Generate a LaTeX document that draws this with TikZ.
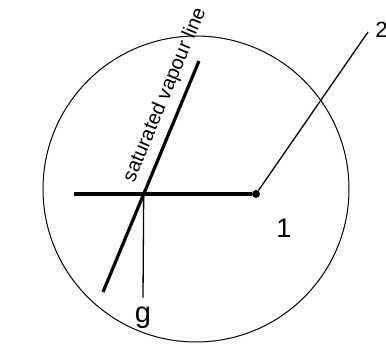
\documentclass[tikz,border=0pt]{standalone}
\usepackage{fontspec}
\setmainfont{Liberation Sans}
\usetikzlibrary{positioning}

\begin{document}
\begin{tikzpicture}[
    x=1pt, y=-1pt,
    thinline/.style={line width=1.3pt},
    boldline/.style={line width=3.2pt},
    dot/.style={circle, fill, inner sep=0pt, minimum size=8pt},
    lbl/.style={inner sep=0pt, font=\fontsize{27}{27}\selectfont}
]
    \useasboundingbox (0,0) rectangle (386,347);

    % chart circle
    \draw[line width=1pt] (196,189) circle[radius=153pt];

    % saturated vapour line
    \coordinate (svbottom) at (103,292);
    \coordinate (svtop) at (199,61);
    \draw[boldline] (svbottom) -- (svtop);
    \node[anchor=base, rotate=67.4, inner sep=0pt, font=\fontsize{20}{20}\selectfont] (svlabel) at (170,97) {saturated vapour line};

    % state points
    \coordinate (hleft) at (74,194);
    \coordinate (cross) at (143.7,194);
    \node[dot] (p1) at (256,194) {};
    \coordinate (p2) at (368,32);

    \draw[boldline] (hleft) -- (p1);
    \draw[thinline] (p1) -- (p2);

    % labels
    \node[lbl] (one) at (284,228.5) {1};
    \node[lbl, font=\fontsize{22}{22}\selectfont] (two) at (381.5,29.5) {2};
    \node[lbl, font=\fontsize{29}{29}\selectfont] (g) at (143,317.5) {g};

    \draw[thinline] (cross) -- ([yshift=9pt]g.north);
\end{tikzpicture}
\end{document}
